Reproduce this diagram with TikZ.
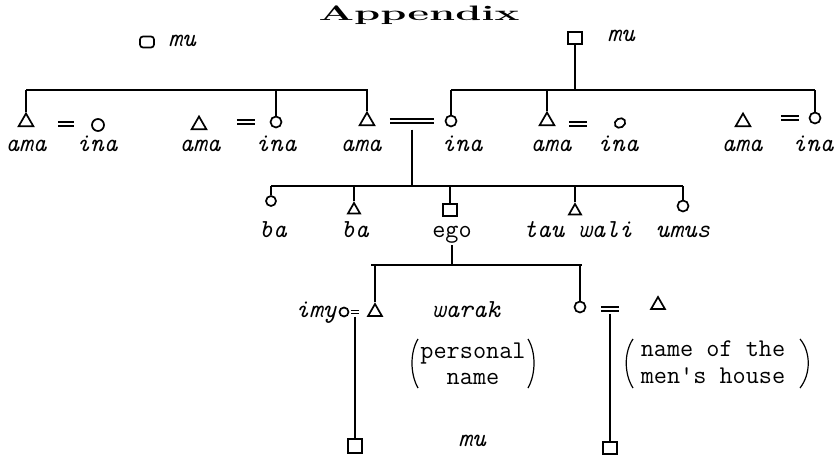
\documentclass[tikz,border=0pt]{standalone}
\usetikzlibrary{shapes.geometric}
\begin{document}
\begin{tikzpicture}[x=1pt,y=-1pt,
  conn/.style={line width=1.5pt},
  sym/.style={draw, line width=1.7pt, inner sep=0pt},
  tri/.style={sym, regular polygon, regular polygon sides=3, minimum size=17pt},
  stri/.style={sym, regular polygon, regular polygon sides=3, minimum size=14pt},
  fem/.style={sym, circle, minimum size=11pt},
  sfem/.style={sym, circle, minimum size=9pt},
  male/.style={sym, rectangle, minimum width=14pt, minimum height=12pt},
  eqsign/.style={inner sep=0pt, minimum height=5pt, minimum width=#1},
  eqline/.style={double distance=2.4pt, line width=1.4pt},
  lab/.style={font=\fontsize{26}{26}\selectfont\ttfamily\itshape, anchor=base, inner sep=0pt},
  up/.style={font=\fontsize{25.5}{26.5}\selectfont\ttfamily, inner sep=0pt},
  paren/.style={line width=1.2pt},
]
\useasboundingbox (0,0) rectangle (838,461);

% title
\node[anchor=base, inner sep=0pt, font=\fontsize{22}{22}\selectfont\bfseries] (title) at (419,20) {\scalebox{1.9}[0.95]{Appendix}};

% top generation
\node[male, rounded corners=3pt, minimum height=11pt] (sq1) at (147,42) {};
\node[lab] (mu1) at (182,46) {mu};
\node[male] (sq2) at (575,38) {};
\node[lab] (mu2) at (621,41) {mu};

\coordinate (bL1) at (26,90);
\coordinate (bL2) at (368,90);
\coordinate (bR1) at (451,90);
\coordinate (bR2) at (815,90);
\draw[conn] (bL1) -- (bL2);
\draw[conn] (bR1) -- (bR2);
\draw[conn] (sq2.south) -- (sq2.south |- bR1);

% first row
\node[tri] (t1) at (26,122) {};
\node[eqsign=16pt] (e1) at (66,124) {};
\node[fem, minimum size=12pt] (c1) at (98,125) {};
\node[tri] (t2) at (199,125) {};
\node[eqsign=18pt] (e2) at (246,122) {};
\node[fem] (c2) at (276,122) {};
\node[tri] (t3) at (367,121) {};
\node[eqsign=44pt] (e3) at (412,121) {};
\node[fem] (c3) at (451,121) {};
\node[tri] (t4) at (547,121) {};
\node[eqsign=18pt] (e4) at (578,124) {};
\node[fem, rotate=30, minimum height=9pt, ellipse] (c4) at (620,123) {};
\node[tri] (t5) at (743,122) {};
\node[eqsign=18pt] (e5) at (790,118) {};
\node[fem] (c5) at (815,118) {};
\foreach \e in {e1,e2,e3,e4,e5} {\draw[eqline] (\e.west) -- (\e.east);}

\draw[conn] (t1.north) -- (t1.north |- bL1);
\draw[conn] (c2.north) -- (c2.north |- bL1);
\draw[conn] (t3.north) -- (t3.north |- bL1);
\draw[conn] (c3.north) -- (c3.north |- bR1);
\draw[conn] (t4.north) -- (t4.north |- bR1);
\draw[conn] (c5.north) -- (c5.north |- bR1);

\node[lab] (a1) at (26,151) {ama};
\node[lab] (i1) at (97,151) {ina};
\node[lab] (a2) at (200,151) {ama};
\node[lab] (i2) at (276,151) {ina};
\node[lab] (a3) at (361,151) {ama};
\node[lab] (i3) at (462,151) {ina};
\node[lab] (a4) at (551,151) {ama};
\node[lab] (i4) at (618,151) {ina};
\node[lab] (a5) at (742,151) {ama};
\node[lab] (i5) at (813,151) {ina};

% second row
\coordinate (bC1) at (271,186);
\coordinate (bC2) at (683,186);
\draw[conn] (bC1) -- (bC2);
\draw[conn] ([yshift=-6pt]e3.south) -- (e3.south |- bC1);

\node[sfem, minimum size=10pt] (b1) at (271,201) {};
\node[stri] (b2) at (354,210) {};
\node[male] (ego) at (450,210) {};
\node[stri] (tw) at (575,211) {};
\node[fem] (um) at (683,206) {};
\foreach \n in {b1,b2,ego,tw,um} {\draw[conn] (\n.north) -- (\n.north |- bC1);}

\node[lab] (lb1) at (273,237) {ba};
\node[lab] (lb2) at (355,237) {ba};
\node[up, anchor=base] (lego) at (452,237) {ego};
\node[lab] (ltw) at (578,237) {tau wali};
\node[lab] (lum) at (683,237) {umus};

% third row
\coordinate (bE1) at (371,265);
\coordinate (bE2) at (582,265);
\draw[conn] (bE1) -- (bE2);
\draw[conn] ([yshift=-2pt]lego.south) -- (lego.south |- bE1);

\node[lab] (limy) at (316,317) {imy};
\node[sfem] (ic) at (344,312) {};
\node[eqsign=8pt] (ie) at (355,312) {};
\draw[eqline, line width=1pt, double distance=2pt] (ie.west) -- (ie.east);
\node[stri, minimum size=16pt] (it) at (375,312) {};
\draw[conn] (it.north) -- (it.north |- bE1);

\node[lab] (lwarak) at (466,317) {warak};
\node[up, align=center] (lpers) at (473,364) {personal\\name};
\draw[paren] (418,339) .. controls (410,352) and (410,374) .. (418,388);
\draw[paren] (528,339) .. controls (536,352) and (536,374) .. (528,388);

\node[fem] (rc) at (580,307) {};
\node[eqsign=18pt] (re) at (610,309) {};
\draw[eqline] (re.west) -- (re.east);
\node[stri, minimum size=16pt] (rt) at (658,305) {};
\draw[conn] (rc.north) -- (rc.north |- bE2);

\node[up, align=center] (lmen) at (713,362) {name of the\\men's house};
\draw[paren] (633,339) .. controls (624,352) and (624,374) .. (633,388);
\draw[paren] (800,339) .. controls (811,352) and (811,374) .. (800,388);

% bottom
\node[male, minimum height=14pt] (bs1) at (355,446) {};
\node[male] (bs2) at (610,448) {};
\draw[conn] ([yshift=-2pt]ie.south) -- (ie.south |- bs1.north);
\draw[conn] ([yshift=-2pt]re.south) -- (re.south |- bs2.north);
\node[lab] (mu3) at (472,446) {mu};
\end{tikzpicture}
\end{document}
